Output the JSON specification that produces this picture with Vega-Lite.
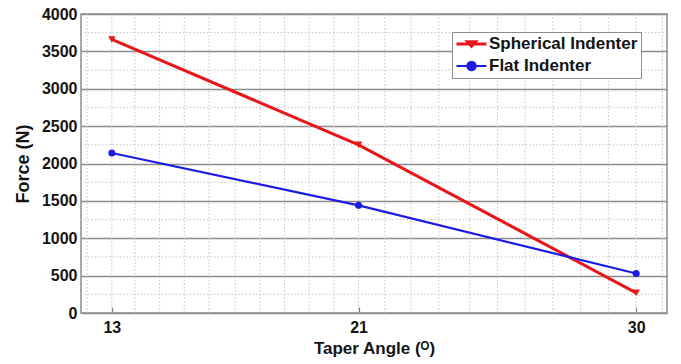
{
  "$schema": "https://vega.github.io/schema/vega-lite/v6.json",
  "width": 586,
  "height": 299,
  "autosize": {"type": "none"},
  "padding": {"left": 81, "top": 14, "right": 14, "bottom": 51},
  "background": "white",
  "config": {
    "view": {"stroke": "#8c8c8c", "strokeWidth": 1.5},
    "font": "Liberation Sans",
    "axis": {
      "labelFont": "Liberation Sans",
      "labelFontWeight": "bold",
      "labelFontSize": 16,
      "labelColor": "#141414",
      "titleFont": "Liberation Sans",
      "titleFontWeight": "bold",
      "titleColor": "#141414",
      "domain": false,
      "labelOverlap": false
    }
  },
  "datasets": {
    "main": [
      {"series": "Spherical Indenter", "angle": 13, "force": 3660},
      {"series": "Spherical Indenter", "angle": 21, "force": 2250},
      {"series": "Spherical Indenter", "angle": 30, "force": 270},
      {"series": "Flat Indenter", "angle": 13, "force": 2140},
      {"series": "Flat Indenter", "angle": 21, "force": 1440},
      {"series": "Flat Indenter", "angle": 30, "force": 528}
    ],
    "vgrid": [
      {"x": 12.2}, {"x": 13.0}, {"x": 13.75}, {"x": 14.55}, {"x": 15.35}, {"x": 16.15},
      {"x": 17.0}, {"x": 17.8}, {"x": 18.6}, {"x": 19.4}, {"x": 20.2}, {"x": 21.0},
      {"x": 21.85}, {"x": 22.7}, {"x": 23.6}, {"x": 24.6}, {"x": 25.5}, {"x": 26.4},
      {"x": 27.3}, {"x": 28.2}, {"x": 29.1}, {"x": 30.0}, {"x": 30.85}
    ],
    "hgrid": [
      {"y": 250}, {"y": 750}, {"y": 1250}, {"y": 1750},
      {"y": 2250}, {"y": 2750}, {"y": 3250}, {"y": 3750}
    ]
  },
  "layer": [
    {
      "data": {"name": "vgrid"},
      "mark": {"type": "rule", "color": "#c4c4c4", "strokeWidth": 1, "strokeDash": [1.5, 2]},
      "encoding": {
        "x": {
          "field": "x", "type": "quantitative",
          "scale": {"domain": [12, 31], "nice": false, "zero": false},
          "axis": {
            "values": [13, 21, 30], "grid": false, "ticks": true, "tickSize": -6,
            "tickColor": "#777", "tickWidth": 1.2, "labelPadding": 12,
            "title": "Taper Angle (ᴼ)", "titleFontSize": 17, "titlePadding": 5
          }
        }
      }
    },
    {
      "data": {"name": "hgrid"},
      "mark": {"type": "rule", "color": "#c4c4c4", "strokeWidth": 1, "strokeDash": [1.5, 2]},
      "encoding": {
        "y": {
          "field": "y", "type": "quantitative",
          "scale": {"domain": [0, 4000], "nice": false},
          "axis": {
            "values": [0, 500, 1000, 1500, 2000, 2500, 3000, 3500, 4000],
            "format": "d", "tickCount": 9,
            "grid": true, "gridColor": "#8c8c8c", "gridWidth": 1.5,
            "ticks": false, "labelPadding": 4,
            "title": "Force (N)", "titleFontSize": 18, "titlePadding": 9
          }
        }
      }
    },
    {
      "data": {"name": "main"},
      "mark": {"type": "line"},
      "encoding": {
        "x": {
          "field": "angle", "type": "quantitative",
          "axis": {
            "values": [13, 21, 30], "grid": false, "ticks": true, "tickSize": -6,
            "tickColor": "#777", "tickWidth": 1.2, "labelPadding": 12,
            "title": "Taper Angle (ᴼ)", "titleFontSize": 17, "titlePadding": 5
          }
        },
        "y": {
          "field": "force", "type": "quantitative",
          "axis": {
            "values": [0, 500, 1000, 1500, 2000, 2500, 3000, 3500, 4000],
            "format": "d", "tickCount": 9,
            "grid": true, "gridColor": "#8c8c8c", "gridWidth": 1.5,
            "ticks": false, "labelPadding": 4,
            "title": "Force (N)", "titleFontSize": 18, "titlePadding": 9
          }
        },
        "color": {
          "field": "series", "type": "nominal",
          "scale": {"domain": ["Spherical Indenter", "Flat Indenter"], "range": ["#e8161b", "#1c1ce0"]},
          "legend": {
            "orient": "none", "legendX": 371, "legendY": 18, "title": null,
            "fillColor": "white", "strokeColor": "#8c8c8c", "padding": 3,
            "symbolSize": 225, "symbolStrokeWidth": 2.5,
            "labelFont": "Liberation Sans", "labelFontWeight": "bold", "labelFontSize": 17,
            "labelColor": "#141414", "labelOffset": 16, "rowPadding": 4,
            "encode": {
              "symbols": {
                "update": {
                  "shape": {"signal": "datum.value === 'Spherical Indenter' ? 'M-1,0H3M0.47,-0.3H1.53L1,0.3Z' : 'M-1,0H3M1.55,0A0.55,0.55 0 1 1 0.45,0A0.55,0.55 0 1 1 1.55,0Z'"},
                  "fill": {"signal": "datum.value === 'Spherical Indenter' ? '#e8161b' : '#1c1ce0'"},
                  "fillOpacity": {"value": 1},
                  "strokeWidth": {"value": 2.5}
                }
              }
            }
          }
        },
        "strokeWidth": {
          "field": "series", "type": "nominal",
          "scale": {"domain": ["Spherical Indenter", "Flat Indenter"], "range": [3, 2.2]},
          "legend": null
        }
      }
    },
    {
      "data": {"name": "main"},
      "transform": [{"filter": "datum.series === 'Spherical Indenter'"}],
      "mark": {"type": "point", "filled": true, "size": 55, "opacity": 1, "shape": "triangle-down"},
      "encoding": {
        "x": {"field": "angle", "type": "quantitative"},
        "y": {"field": "force", "type": "quantitative"},
        "color": {"field": "series", "type": "nominal"}
      }
    },
    {
      "data": {"name": "main"},
      "transform": [{"filter": "datum.series === 'Flat Indenter'"}],
      "mark": {"type": "point", "filled": true, "size": 50, "opacity": 1, "shape": "circle"},
      "encoding": {
        "x": {"field": "angle", "type": "quantitative"},
        "y": {"field": "force", "type": "quantitative"},
        "color": {"field": "series", "type": "nominal"}
      }
    }
  ]
}
